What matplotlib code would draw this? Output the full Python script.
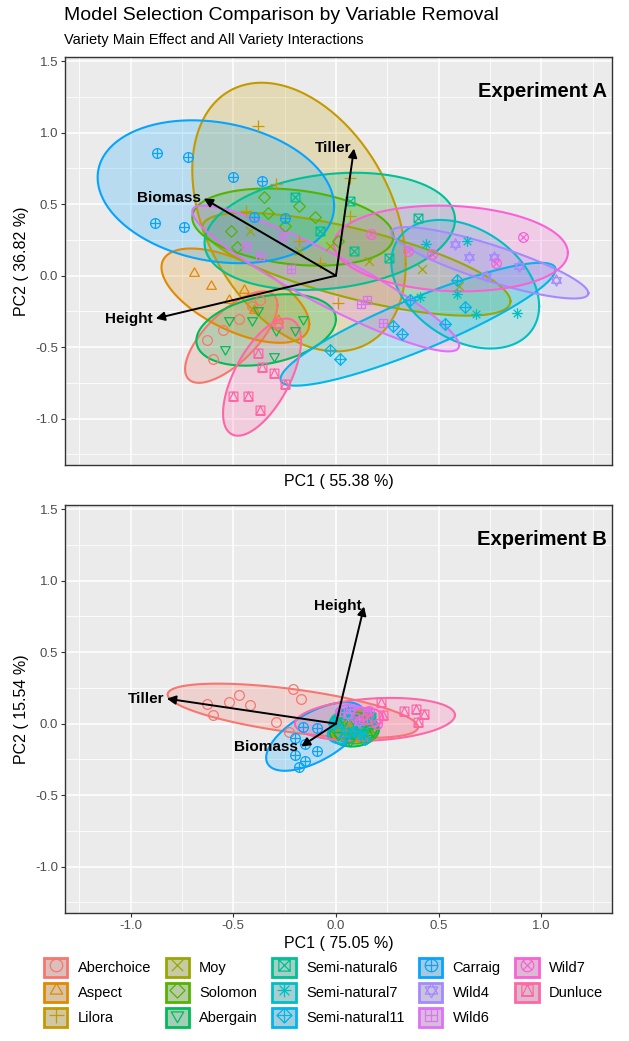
import numpy as np
import matplotlib
matplotlib.use("Agg")
import matplotlib.pyplot as plt
from matplotlib.path import Path
from matplotlib.markers import MarkerStyle
from matplotlib.transforms import Affine2D
from matplotlib.patches import Patch
from matplotlib.lines import Line2D
from matplotlib.colors import to_rgba
from matplotlib.legend_handler import HandlerTuple

plt.rcParams["font.family"] = ["Liberation Sans", "DejaVu Sans"]
plt.rcParams["axes.unicode_minus"] = False

varieties = ["Aberchoice", "Aspect", "Lilora", "Moy", "Solomon", "Abergain",
             "Semi-natural6", "Semi-natural7", "Semi-natural11", "Carraig",
             "Wild4", "Wild6", "Wild7", "Dunluce"]

# --- Experiment A: PCA scores per variety ---
pc1_a = [
    [-0.63, -0.60, -0.47, -0.41, -0.55, -0.37],
    [-0.69, -0.52, -0.40, -0.28, -0.45, -0.61],
    [-0.38, -0.29, -0.44, 0.07, 0.07, 0.01, -0.18, -0.08],
    [-0.42, -0.18, -0.03, 0.16, 0.42, 0.60],
    [-0.35, -0.33, -0.10, -0.51, -0.48, 0.01, -0.18, -0.25],
    [-0.54, -0.52, -0.41, -0.29, -0.16, -0.30, -0.38, -0.20],
    [-0.20, 0.07, 0.26, 0.40, -0.08, 0.09],
    [0.44, 0.64, 0.41, 0.59, 0.68, 0.88],
    [-0.03, 0.02, 0.28, 0.32, 0.59, 0.63, 0.53, 0.36],
    [-0.87, -0.72, -0.50, -0.36, -0.88, -0.74, -0.40, -0.25],
    [0.58, 0.65, 0.77, 1.07, 0.73, 0.89],
    [0.12, 0.15, 0.23, -0.37, -0.22, -0.44, -0.26],
    [0.17, 0.35, 0.47, 0.78, 0.91],
    [-0.38, -0.36, -0.30, -0.25, -0.50, -0.43, -0.37, -0.28],
]
pc2_a = [
    [-0.45, -0.58, -0.30, -0.21, -0.38, -0.17],
    [0.02, -0.17, -0.24, -0.31, -0.10, -0.07],
    [1.05, 0.64, 0.45, 0.68, 0.42, -0.19, 0.24, 0.09],
    [0.31, 0.17, 0.21, 0.10, 0.05, -0.07],
    [0.55, 0.44, 0.41, 0.31, 0.20, 0.24, 0.49, 0.35],
    [-0.51, -0.31, -0.31, -0.38, -0.30, -0.56, -0.24, -0.38],
    [0.55, 0.52, 0.12, 0.40, 0.31, 0.17],
    [0.22, 0.24, -0.15, -0.13, -0.27, -0.26],
    [-0.52, -0.58, -0.35, -0.41, -0.03, -0.22, -0.34, -0.17],
    [0.86, 0.83, 0.69, 0.66, 0.37, 0.34, 0.41, 0.40],
    [0.22, 0.13, 0.13, -0.03, 0.00, 0.07],
    [-0.20, -0.17, -0.33, 0.14, 0.05, 0.21, 0.28],
    [0.29, 0.17, 0.15, 0.09, 0.27],
    [-0.54, -0.64, -0.68, -0.76, -0.84, -0.84, -0.94, -0.33],
]
# confidence ellipses: centre, half width, half height, x/y correlation
ell_cx_a = [-0.51, -0.49, -0.18, 0.10, -0.21, -0.34, -0.03, 0.63, 0.40, -0.585, 0.75, -0.05, 0.56, -0.36]
ell_cy_a = [-0.43, -0.14, 0.41, 0.08, 0.34, -0.38, 0.31, -0.06, -0.34, 0.587, 0.09, -0.02, 0.19, -0.71]
ell_hx_a = [0.225, 0.36, 0.52, 0.75, 0.49, 0.34, 0.61, 0.36, 0.67, 0.576, 0.48, 0.65, 0.57, 0.19]
ell_hy_a = [0.32, 0.33, 0.94, 0.36, 0.27, 0.25, 0.41, 0.45, 0.43, 0.50, 0.25, 0.51, 0.30, 0.41]
ell_r_a = [0.70, -0.60, -0.35, -0.72, -0.25, 0.30, 0.20, -0.34, 0.89, -0.20, -0.85, -0.92, -0.10, 0.62]

load_names_a = ["Tiller", "Biomass", "Height"]
load_pc1_a = [0.088, -0.644, -0.878]
load_pc2_a = [0.89, 0.54, -0.30]

# --- Experiment B ---
pc1_b = [
    [-0.47, -0.42, -0.63, -0.60, -0.21, -0.17, -0.29, -0.23, -0.52],
    [0.02, 0.08, 0.05, 0.11],
    [0.04, 0.10, 0.07, 0.13],
    [0.00, 0.06, 0.11, 0.16],
    [0.03, 0.09, 0.14, 0.06, 0.17],
    [0.01, 0.07, 0.12, 0.15, 0.04, 0.18, 0.10],
    [0.00, 0.05, 0.10, 0.13, 0.17, 0.08],
    [0.03, 0.08, 0.12, 0.16, 0.06],
    [-0.01, 0.04, 0.09, 0.14],
    [-0.20, -0.15, -0.20, -0.15, -0.09, -0.16, -0.09, -0.18],
    [0.06, 0.11, 0.15],
    [0.02, 0.07, 0.13],
    [0.10, 0.16, 0.20],
    [0.22, 0.23, 0.15, 0.39, 0.40, 0.43, 0.33],
]
pc2_b = [
    [0.20, 0.13, 0.14, 0.06, 0.24, 0.17, 0.01, -0.06, 0.15],
    [-0.02, 0.03, -0.06, -0.10],
    [0.04, -0.03, 0.00, 0.07],
    [-0.05, 0.02, -0.08, -0.04],
    [0.05, -0.06, 0.01, -0.10, -0.08],
    [-0.08, -0.12, -0.04, -0.10, 0.02, -0.05, 0.00],
    [0.02, 0.07, 0.04, -0.02, 0.05, -0.06],
    [-0.03, 0.05, -0.07, 0.02, 0.09],
    [0.00, -0.09, -0.05, -0.11],
    [-0.10, -0.14, -0.22, -0.26, -0.19, -0.02, -0.03, -0.30],
    [0.06, 0.01, 0.08],
    [0.08, 0.10, 0.03],
    [0.04, 0.09, 0.00],
    [0.15, 0.06, 0.03, 0.10, 0.01, 0.07, 0.09],
]
ell_cx_b = [-0.21, 0.06, 0.08, 0.08, 0.09, 0.09, 0.08, 0.09, 0.06, -0.10, 0.11, 0.08, 0.15, 0.19]
ell_cy_b = [0.09, -0.03, 0.02, -0.04, -0.03, -0.05, 0.02, 0.01, -0.05, -0.09, 0.05, 0.07, 0.04, 0.03]
ell_hx_b = [0.61, 0.09, 0.08, 0.10, 0.11, 0.12, 0.11, 0.10, 0.10, 0.24, 0.07, 0.08, 0.08, 0.39]
ell_hy_b = [0.19, 0.08, 0.08, 0.08, 0.11, 0.11, 0.09, 0.10, 0.09, 0.24, 0.06, 0.06, 0.07, 0.15]
ell_r_b = [-0.60, 0.30, 0.20, 0.10, 0.00, 0.10, 0.20, 0.00, 0.30, 0.62, 0.00, -0.20, 0.00, 0.20]

load_names_b = ["Height", "Tiller", "Biomass"]
load_pc1_b = [0.137, -0.824, -0.17]
load_pc2_b = [0.82, 0.175, -0.16]


def hcl_hex(h, c=100.0, l=65.0):
    """polar LUV -> sRGB hex (same as R's hcl())"""
    hr = np.deg2rad(h)
    u, v = c * np.cos(hr), c * np.sin(hr)
    Y = ((l + 16) / 116) ** 3
    un, vn = 0.1978398, 0.4683363
    up = u / (13 * l) + un
    vp = v / (13 * l) + vn
    X = Y * 9 * up / (4 * vp)
    Z = Y * (12 - 3 * up - 20 * vp) / (4 * vp)
    m = np.array([[3.240479, -1.537150, -0.498535],
                  [-0.969256, 1.875992, 0.041556],
                  [0.055648, -0.204043, 1.057311]])
    rgb = m @ np.array([X, Y, Z])
    rgb = np.where(rgb <= 0.0031308, 12.92 * rgb, 1.055 * np.abs(rgb) ** (1 / 2.4) - 0.055)
    rgb = np.clip(rgb, 0, 1)
    return "#%02X%02X%02X" % tuple(int(round(x * 255)) for x in rgb)


hues = np.linspace(15, 375, len(varieties) + 1)[:-1] % 360
COLORS = [hcl_hex(h) for h in hues]


# ggplot-style open point shapes 1..14
def _line(*pts):
    return Path(pts, [Path.MOVETO] + [Path.LINETO] * (len(pts) - 1))


def _poly(*pts):
    return Path(list(pts) + [pts[0]],
                [Path.MOVETO] + [Path.LINETO] * (len(pts) - 1) + [Path.CLOSEPOLY])


def _mk(scale, *paths):
    p = Path.make_compound_path(*paths)
    return MarkerStyle(p, fillstyle="none", transform=Affine2D().scale(scale))


CIRC = Path.unit_circle()
SQ = _poly((-1, -1), (1, -1), (1, 1), (-1, 1))
TRI_UP = _poly((0, 1), (-0.866, -0.5), (0.866, -0.5))
TRI_DN = _poly((0, -1), (0.866, 0.5), (-0.866, 0.5))
DIAM = _poly((0, 1), (1, 0), (0, -1), (-1, 0))
PLUS = [_line((-1, 0), (1, 0)), _line((0, -1), (0, 1))]
CROSS = [_line((-1, -1), (1, 1)), _line((-1, 1), (1, -1))]
CROSS_IN = [_line((-0.707, -0.707), (0.707, 0.707)), _line((-0.707, 0.707), (0.707, -0.707))]

SHAPES = [
    _mk(1.0, CIRC),
    _mk(1.15, TRI_UP),
    _mk(1.2, *PLUS),
    _mk(0.9, *CROSS),
    _mk(1.2, DIAM),
    _mk(1.15, TRI_DN),
    _mk(0.9, SQ, *CROSS),
    _mk(1.1, *PLUS, *CROSS_IN),
    _mk(1.2, DIAM, *PLUS),
    _mk(1.0, CIRC, *PLUS),
    _mk(1.15, TRI_UP, TRI_DN),
    _mk(0.9, SQ, *PLUS),
    _mk(1.0, CIRC, *CROSS_IN),
    _mk(0.9, SQ, _poly((0, 1), (-1, -1), (1, -1))),
]


def ellipse_xy(cx, cy, hx, hy, r, n=200):
    t = np.linspace(0, 2 * np.pi, n)
    phi = np.arccos(r)
    return cx + hx * np.cos(t), cy + hy * np.cos(t - phi)


def draw_panel(ax, pc1, pc2, ecx, ecy, ehx, ehy, er, lnames, lx, ly, tag, show_x):
    ax.set_facecolor("#EBEBEB")
    for i in range(len(varieties)):
        ex, ey = ellipse_xy(ecx[i], ecy[i], ehx[i], ehy[i], er[i])
        ax.fill(ex, ey, color=COLORS[i], alpha=0.22, lw=0)
        ax.plot(ex, ey, color=COLORS[i], lw=1.5)
    for i in range(len(varieties)):
        ax.plot(pc1[i], pc2[i], ls="none", marker=SHAPES[i], color=COLORS[i],
                ms=7, mew=0.9)
    for name, x, y in zip(lnames, lx, ly):
        ax.annotate("", xy=(x, y), xytext=(0, 0),
                    arrowprops=dict(arrowstyle="-|>", lw=1.4, color="black",
                                    mutation_scale=13, shrinkA=0, shrinkB=0))
        ax.annotate(name, xy=(x, y), xytext=(-2, 0), textcoords="offset points",
                    ha="right", va="center", fontsize=11, fontweight="bold")
    ax.text(0.991, 0.915, tag, transform=ax.transAxes, ha="right", va="center",
            fontsize=14.5, fontweight="bold")

    ax.set_xlim(-1.32, 1.345)
    ax.set_ylim(-1.325, 1.53)
    ax.set_xticks([-1.0, -0.5, 0.0, 0.5, 1.0])
    ax.set_xticks([-1.25, -0.75, -0.25, 0.25, 0.75, 1.25], minor=True)
    ax.set_yticks([-1.0, -0.5, 0.0, 0.5, 1.0, 1.5])
    ax.set_yticks([-1.25, -0.75, -0.25, 0.25, 0.75, 1.25], minor=True)
    ax.grid(which="major", color="white", lw=1.1)
    ax.grid(which="minor", color="white", lw=0.55)
    ax.set_axisbelow(True)
    ax.tick_params(which="minor", length=0)
    ax.tick_params(which="major", length=3, width=0.8, color="#333333",
                   labelsize=9.5, labelcolor="#4D4D4D", pad=2)
    if not show_x:
        ax.tick_params(axis="x", which="major", length=0, labelbottom=False)
    for s in ax.spines.values():
        s.set_color("#333333")
        s.set_linewidth(1.0)


fig = plt.figure(figsize=(6.29, 10.41), dpi=100)
fig.patch.set_facecolor("white")

ax_a = fig.add_axes([65 / 629, 1 - 465 / 1041, 547 / 629, 408 / 1041])
ax_b = fig.add_axes([65 / 629, 1 - 913 / 1041, 547 / 629, 408 / 1041])

draw_panel(ax_a, pc1_a, pc2_a, ell_cx_a, ell_cy_a, ell_hx_a, ell_hy_a, ell_r_a,
           load_names_a, load_pc1_a, load_pc2_a, "Experiment A", False)
draw_panel(ax_b, pc1_b, pc2_b, ell_cx_b, ell_cy_b, ell_hx_b, ell_hy_b, ell_r_b,
           load_names_b, load_pc1_b, load_pc2_b, "Experiment B", True)

ax_a.set_xlabel("PC1 ( 55.38 %)", fontsize=11.5, labelpad=3)
ax_a.set_ylabel("PC2 ( 36.82 %)", fontsize=11.5, labelpad=4)
ax_b.set_xlabel("PC1 ( 75.05 %)", fontsize=11.5, labelpad=3)
ax_b.set_ylabel("PC2 ( 15.54 %)", fontsize=11.5, labelpad=4)

fig.text(64 / 629, 1 - 16 / 1041, "Model Selection Comparison by Variable Removal",
         fontsize=14, ha="left", va="center")
fig.text(64 / 629, 1 - 40 / 1041, "Variety Main Effect and All Variety Interactions",
         fontsize=10.5, ha="left", va="center")

handles = []
for i, v in enumerate(varieties):
    bg = Patch(facecolor="#D4D4D4", edgecolor="none")
    tint = Patch(facecolor=to_rgba(COLORS[i], 0.22), edgecolor=COLORS[i], lw=2.0)
    mk = Line2D([], [], ls="none", marker=SHAPES[i], color=COLORS[i], ms=9, mew=0.9)
    handles.append((bg, tint, mk))

fig.legend(handles, varieties, ncol=5, loc="upper left",
           bbox_to_anchor=(44 / 629, 1 - 958 / 1041), frameon=False,
           fontsize=10.5, handlelength=1.6, handleheight=1.6, handletextpad=0.7,
           columnspacing=1.0, labelspacing=0.44, borderpad=0, borderaxespad=0,
           numpoints=1, handler_map={tuple: HandlerTuple(ndivide=1, pad=0)})

fig.savefig("out.png", dpi=100, facecolor="white")
